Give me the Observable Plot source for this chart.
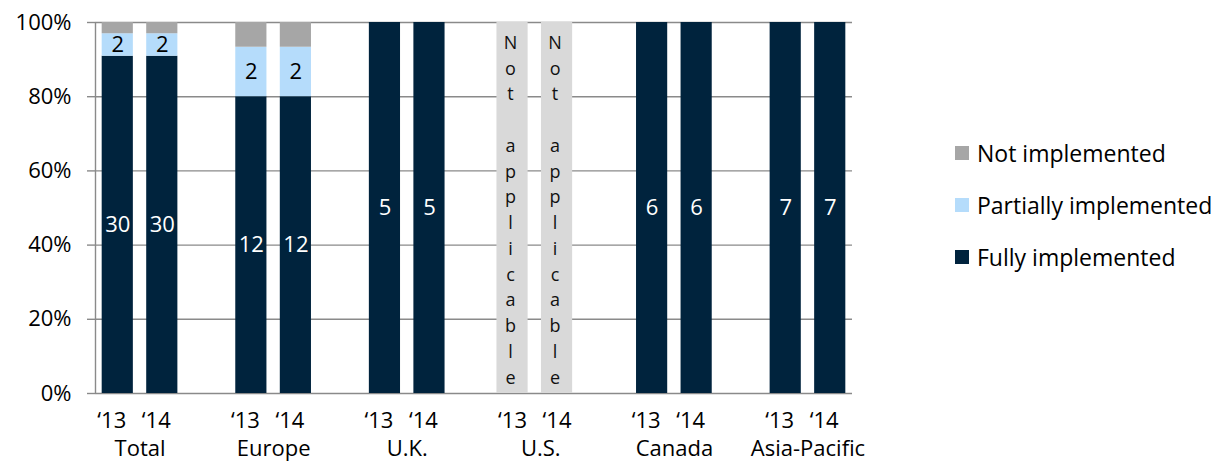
<!DOCTYPE html>
<html>
<head>
<meta charset="utf-8">
<script src="https://cdn.jsdelivr.net/npm/d3@7"></script>
<script src="https://cdn.jsdelivr.net/npm/@observablehq/plot@0.6"></script>
<style>
  body { margin: 0; background: #fff; font-family: "Open Sans", sans-serif; }
  #wrap { position: relative; width: 1217px; height: 461px; }
  #legend { position: absolute; left: 955px; top: 139px; font-size: 23px; color: #000; }
  .row { display: flex; align-items: center; height: 28px; margin-bottom: 24px; white-space: nowrap; }
  .sw { width: 14px; height: 14px; margin-right: 8px; flex: none; }
</style>
</head>
<body>
<div id="wrap"></div>
<script>
// ---- data ----
const regions = ["Total", "Europe", "U.K.", "U.S.", "Canada", "Asia-Pacific"];
const years = ["‘13", "‘14"];
// values per region, per year ('13, '14); null = not applicable
const fully   = [[30, 30], [12, 12], [5, 5], [null, null], [6, 6], [7, 7]];
const partial = [[2, 2],   [2, 2],   [0, 0], [null, null], [0, 0], [0, 0]];
const notImpl = [[1, 1],   [1, 1],   [0, 0], [null, null], [0, 0], [0, 0]];
const naText = "Not applicable";
const seriesNames = ["Not implemented", "Partially implemented", "Fully implemented"];
const seriesColors = ["#a6a6a6", "#b5dcfb", "#00233d"];
const yTicks = [0, 0.2, 0.4, 0.6, 0.8, 1];

// ---- build table ----
const slotsPerGroup = 3;
const segs = [], labels = [], naBars = [], xTicks = [];
regions.forEach((r, gi) => {
  years.forEach((yr, yi) => {
    const slot = gi * slotsPerGroup + yi;
    xTicks.push({slot, yr});
    const f = fully[gi][yi], p = partial[gi][yi], n = notImpl[gi][yi];
    if (f == null) { naBars.push({slot, text: naText.split("").join("\n")}); return; }
    const total = f + p + n;
    const parts = [["Fully implemented", f], ["Partially implemented", p], ["Not implemented", n]];
    let acc = 0;
    for (const [name, v] of parts) {
      if (!v) continue;
      const y1 = acc / total, y2 = (acc + v) / total;
      segs.push({slot, name, y1, y2});
      if (name !== "Not implemented") labels.push({slot, y: (y1 + y2) / 2, v, name});
      acc += v;
    }
  });
});
const groupLabels = regions.map((r, gi) => ({r, x: gi * slotsPerGroup + 0.5}));
const halfBar = 0.35;
const nSlots = regions.length * slotsPerGroup - 1;
const FS = 22;

const plot = Plot.plot({
  width: 1217,
  height: 461,
  marginLeft: 95,
  marginRight: 365,
  marginTop: 22,
  marginBottom: 68,
  style: {fontFamily: "'Open Sans', sans-serif", fontSize: FS + "px", background: "white"},
  x: {domain: [-0.5, nSlots - 0.5], axis: null},
  y: {domain: [0, 1]},
  color: {domain: seriesNames, range: seriesColors},
  marks: [
    Plot.gridY(yTicks, {stroke: "#8a8a8a", strokeOpacity: 1, strokeWidth: 1.4}),
    Plot.axisY({ticks: yTicks, tickFormat: d3.format(".0%"), tickSize: 8, tickPadding: 16,
      stroke: "#8a8a8a", strokeWidth: 1.4, fill: "#000", fontSize: FS, label: null}),
    Plot.ruleX([-0.5], {stroke: "#8a8a8a", strokeWidth: 1.4}),
    Plot.rectY(segs, {x1: d => d.slot - halfBar, x2: d => d.slot + halfBar, y1: "y1", y2: "y2", fill: "name"}),
    Plot.rectY(naBars, {x1: d => d.slot - halfBar, x2: d => d.slot + halfBar, y1: 0, y2: 1, fill: "#d9d9d9", dx: -6}),
    Plot.text(naBars, {x: "slot", text: "text", frameAnchor: "middle", fontSize: 18, lineHeight: 1.43, fill: "#111", dx: -8}),
    Plot.text(labels, {x: "slot", y: "y", text: "v", fontSize: FS,
      fill: d => d.name === "Fully implemented" ? "#fff" : "#000"}),
    Plot.text(xTicks, {x: "slot", text: "yr", frameAnchor: "bottom", dy: 34, dx: -6, fontSize: FS, fill: "#000"}),
    Plot.text(groupLabels, {x: "x", text: "r", frameAnchor: "bottom", dy: 62, fontSize: FS, fill: "#000"})
  ]
});
document.getElementById("wrap").appendChild(plot);

const legend = document.createElement("div");
legend.id = "legend";
seriesNames.forEach((n, i) => {
  const row = document.createElement("div");
  row.className = "row";
  row.innerHTML = `<div class="sw" style="background:${seriesColors[i]}"></div><span>${n}</span>`;
  legend.appendChild(row);
});
document.getElementById("wrap").appendChild(legend);
</script>
</body>
</html>
